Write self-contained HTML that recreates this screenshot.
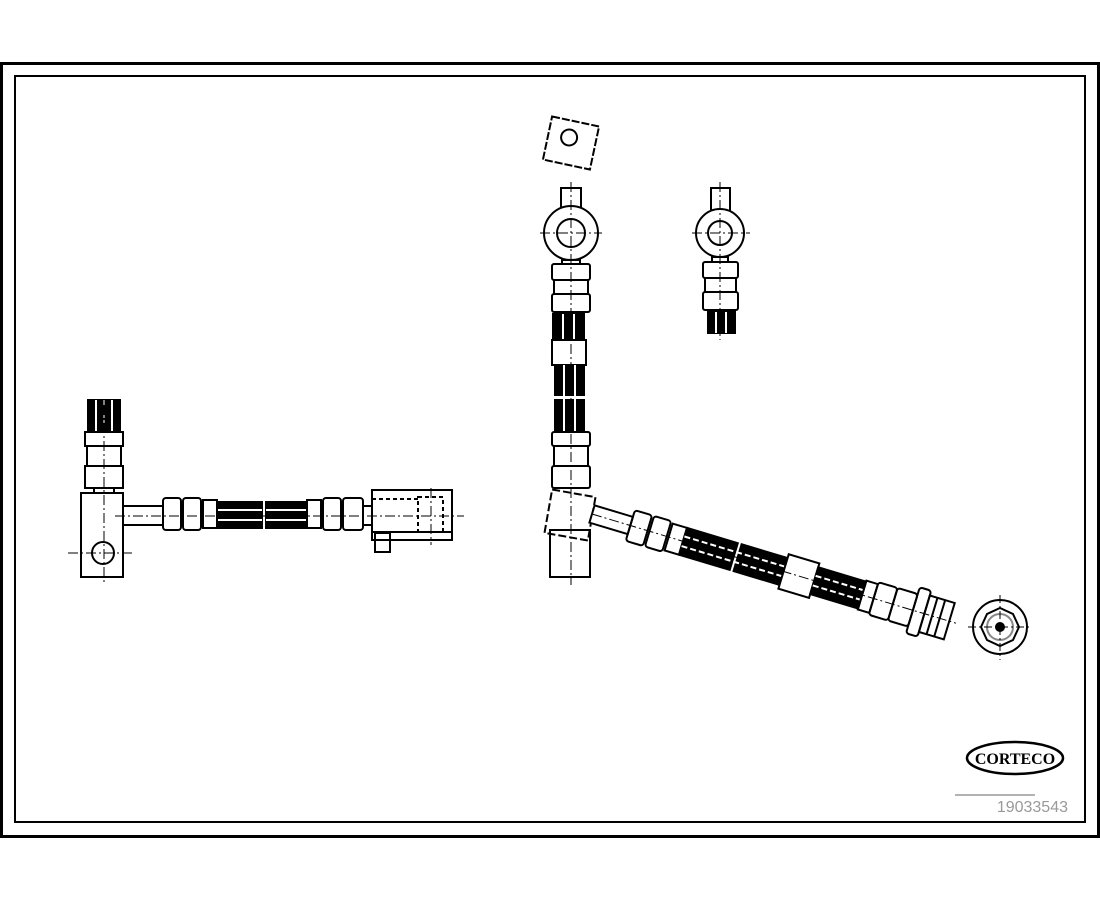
<!DOCTYPE html>
<html><head><meta charset="utf-8"><style>
html,body{margin:0;padding:0;background:#fff;}
svg{display:block}
</style></head><body>
<svg width="1100" height="900" viewBox="0 0 1100 900" xmlns="http://www.w3.org/2000/svg">
<rect x="0" y="0" width="1100" height="900" fill="#fff"/>
<!-- frames -->
<rect x="1.5" y="63.5" width="1097" height="773" fill="none" stroke="#000" stroke-width="3"/>
<rect x="15" y="76" width="1070" height="746" fill="none" stroke="#000" stroke-width="2"/>
<g fill="none" stroke="#000" stroke-width="2">
<!-- LEFT ASSEMBLY -->
<g>
 <rect x="88" y="400" width="32" height="32" fill="#000"/>
 <line x1="96" y1="400" x2="96" y2="432" stroke="#fff" stroke-width="2"/>
 <line x1="104" y1="400" x2="104" y2="432" stroke="#fff" stroke-width="1"/>
 <line x1="112" y1="400" x2="112" y2="432" stroke="#fff" stroke-width="2"/>
 <rect x="85" y="432" width="38" height="14" fill="#fff"/>
 <rect x="87" y="446" width="34" height="20" fill="#fff"/>
 <rect x="85" y="466" width="38" height="22" fill="#fff"/>
 <rect x="94" y="488" width="20" height="5"/>
 <rect x="81" y="493" width="42" height="84" fill="#fff"/>
 <circle cx="103" cy="553" r="11"/>
 <rect x="123" y="506" width="40" height="19"/>
 <rect x="163" y="498" width="18" height="32" rx="3"/>
 <rect x="183" y="498" width="18" height="32" rx="3"/>
 <rect x="203" y="500" width="14" height="28"/>
 <rect x="218" y="502" width="44" height="26" fill="#000"/>
 <rect x="266" y="502" width="41" height="26" fill="#000"/>
 <line x1="218" y1="510" x2="262" y2="510" stroke="#fff"/><line x1="218" y1="520" x2="262" y2="520" stroke="#fff"/>
 <line x1="266" y1="510" x2="307" y2="510" stroke="#fff"/><line x1="266" y1="520" x2="307" y2="520" stroke="#fff"/>
 <rect x="307" y="500" width="14" height="28"/>
 <rect x="323" y="498" width="18" height="32" rx="3"/>
 <rect x="343" y="498" width="20" height="32" rx="3"/>
 <rect x="363" y="506" width="9" height="19"/>
 <rect x="372" y="490" width="80" height="50"/>
 <line x1="372" y1="532" x2="452" y2="532"/>
 <rect x="418" y="497" width="25" height="35" stroke-dasharray="4,3"/>
 <line x1="372" y1="499" x2="418" y2="499" stroke-dasharray="4,3"/>
 <rect x="375" y="533" width="15" height="19"/>
 <g stroke-width="1" stroke-dasharray="10,3,2,3">
  <line x1="115" y1="516" x2="464" y2="516"/>
  <line x1="104" y1="405" x2="104" y2="585"/>
  <line x1="68" y1="553" x2="135" y2="553"/>
  <line x1="431" y1="488" x2="431" y2="545"/>
 </g>
</g>
<!-- MIDDLE VERTICAL ASSEMBLY -->
<g>
 <g transform="rotate(12 571 143)"><rect x="547" y="121" width="48" height="44" stroke-dasharray="8,2"/><circle cx="568" cy="138" r="8"/></g>
 <rect x="561" y="188" width="20" height="24"/>
 <circle cx="571" cy="233" r="27" fill="#fff"/>
 <circle cx="571" cy="233" r="14"/>
 <rect x="562" y="260" width="18" height="4"/>
 <rect x="552" y="264" width="38" height="16" rx="2"/>
 <rect x="554" y="280" width="34" height="14"/>
 <rect x="552" y="294" width="38" height="18" rx="2"/>
 <rect x="553" y="314" width="31" height="26" fill="#000"/>
 <line x1="563" y1="314" x2="563" y2="340" stroke="#fff"/><line x1="574" y1="314" x2="574" y2="340" stroke="#fff"/>
 <rect x="552" y="340" width="34" height="25" fill="#fff"/>
 <rect x="555" y="365" width="29" height="30" fill="#000"/>
 <rect x="555" y="400" width="29" height="32" fill="#000"/>
 <line x1="564" y1="365" x2="564" y2="432" stroke="#fff"/><line x1="575" y1="365" x2="575" y2="432" stroke="#fff"/>
 <rect x="552" y="432" width="38" height="14" rx="2" fill="#fff"/>
 <rect x="554" y="446" width="34" height="20" fill="#fff"/>
 <rect x="552" y="466" width="38" height="22" rx="2" fill="#fff"/>
 <rect x="550" y="530" width="40" height="47"/>
 <g transform="rotate(10 570 515)"><rect x="548" y="493" width="44" height="44" stroke-dasharray="8,3"/></g>
 <g stroke-width="1" stroke-dasharray="10,3,2,3">
  <line x1="571" y1="182" x2="571" y2="585"/>
  <line x1="540" y1="233" x2="602" y2="233"/>
 </g>
</g>
<!-- RIGHT SMALL ASSEMBLY -->
<g>
 <rect x="711" y="188" width="19" height="24"/>
 <circle cx="720" cy="233" r="24" fill="#fff"/>
 <circle cx="720" cy="233" r="12"/>
 <rect x="712" y="257" width="16" height="5"/>
 <rect x="703" y="262" width="35" height="16" rx="2"/>
 <rect x="705" y="278" width="31" height="14"/>
 <rect x="703" y="292" width="35" height="18" rx="2"/>
 <rect x="708" y="312" width="27" height="21" fill="#000"/>
 <line x1="716" y1="312" x2="716" y2="333" stroke="#fff"/><line x1="726" y1="312" x2="726" y2="333" stroke="#fff"/>
 <g stroke-width="1" stroke-dasharray="10,3,2,3">
  <line x1="720" y1="182" x2="720" y2="340"/>
  <line x1="692" y1="233" x2="750" y2="233"/>
 </g>
</g>
<!-- ANGLED HOSE -->
<g transform="translate(592 514) rotate(16.7)">
 <rect x="0" y="-9" width="40" height="18" fill="#fff"/>
 <rect x="40" y="-16" width="18" height="32" rx="3"/>
 <rect x="60" y="-16" width="18" height="32" rx="3"/>
 <rect x="80" y="-14" width="15" height="28"/>
 <rect x="95" y="-14" width="53" height="28" fill="#000"/>
 <rect x="152" y="-14" width="48" height="28" fill="#000"/>
 <line x1="95" y1="-5" x2="200" y2="-5" stroke="#fff" stroke-dasharray="6,3"/>
 <line x1="95" y1="5" x2="200" y2="5" stroke="#fff" stroke-dasharray="6,3"/>
 <rect x="200" y="-18" width="32" height="36" fill="#fff"/>
 <rect x="232" y="-14" width="50" height="28" fill="#000"/>
 <line x1="232" y1="-5" x2="282" y2="-5" stroke="#fff" stroke-dasharray="6,3"/>
 <line x1="232" y1="5" x2="282" y2="5" stroke="#fff" stroke-dasharray="6,3"/>
 <rect x="282" y="-15" width="12" height="30"/>
 <rect x="294" y="-17" width="20" height="34" rx="3"/>
 <rect x="314" y="-17" width="21" height="34" rx="3"/>
 <rect x="335" y="-24" width="12" height="48" rx="3"/>
 <rect x="347" y="-19" width="26" height="38"/>
 <line x1="355" y1="-19" x2="355" y2="19"/><line x1="363" y1="-19" x2="363" y2="19"/>
 <line x1="0" y1="0" x2="380" y2="0" stroke-width="1" stroke-dasharray="10,3,2,3"/>
</g>
<!-- NUT -->
<circle cx="1000" cy="627" r="27"/>
<polygon points="1019,627 1013,640 1000,646 987,640 981,627 987,614 1000,608 1013,614"/>
<circle cx="1000" cy="627" r="13" stroke="#888"/>
<circle cx="1000" cy="627" r="4" fill="#000"/>
<g stroke-width="1" stroke-dasharray="8,3,2,3"><line x1="968" y1="627" x2="1032" y2="627"/><line x1="1000" y1="595" x2="1000" y2="660"/></g>
<!-- LOGO -->
<ellipse cx="1015" cy="758" rx="48" ry="16" stroke-width="2.5"/>
</g>
<text x="1015" y="764" text-anchor="middle" font-family="Liberation Serif, serif" font-weight="bold" font-size="16" fill="#000">CORTECO</text>
<line x1="955" y1="795" x2="1035" y2="795" stroke="#999" stroke-width="1.5"/>
<text x="1068" y="812" text-anchor="end" font-family="Liberation Sans, sans-serif" font-size="16" fill="#999">19033543</text>
</svg>
</body></html>
